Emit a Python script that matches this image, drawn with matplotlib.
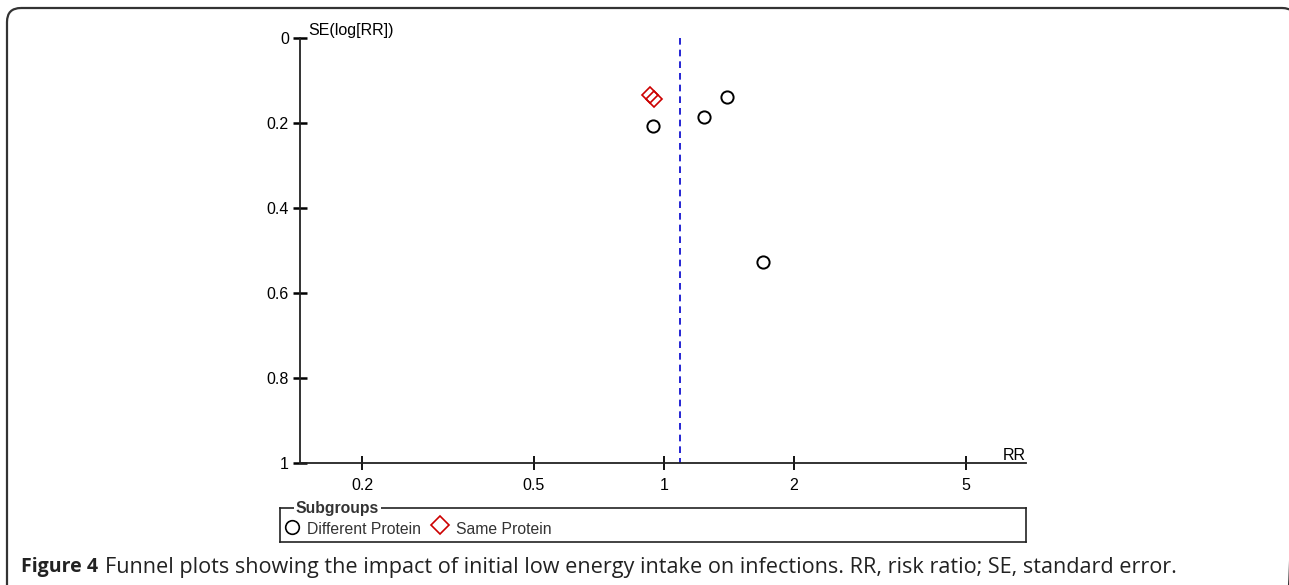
import numpy as np
from matplotlib import pyplot as plt
from matplotlib.patches import FancyBboxPatch
import matplotlib as mpl

# study estimates
rr_diff = [0.943, 1.238, 1.399, 1.695]
se_diff = [0.207, 0.186, 0.139, 0.527]
rr_same = [0.926, 0.946]
se_same = [0.134, 0.1435]
rr_pooled = 1.089

xticks = [0.2, 0.5, 1, 2, 5]
xticklabels = ["0.2", "0.5", "1", "2", "5"]
yticks = [0, 0.2, 0.4, 0.6, 0.8, 1]
yticklabels = ["0", "0.2", "0.4", "0.6", "0.8", "1"]

mpl.rc("font", family=["Liberation Sans", "DejaVu Sans"], size=11)

W, H = 1289, 585
fig = plt.figure(figsize=(W/100, H/100), dpi=100)

def fx(px):
    return px/W

def fy(py):
    return 1 - py/H

# background axes in pixel units, used for the panel frame
bg = fig.add_axes([0, 0, 1, 1], zorder=-1)
bg.set_xlim(0, W)
bg.set_ylim(H, 0)
bg.axis("off")
bg.add_patch(FancyBboxPatch((7, 8), 1296-7, 640-8, boxstyle="round,pad=0,rounding_size=14",
                            facecolor="none", edgecolor="#333333", lw=1.6))

ax = fig.add_axes([fx(300), fy(463), fx(1026)-fx(300), fy(38)-fy(463)])
ax.set_xscale("log")
ax.set_xlim(0.1437, 6.89)
ax.set_ylim(1, 0)

ax.plot([rr_pooled, rr_pooled], [0, 1], color="#0000cc", lw=1.2, ls=(0, (4, 3)), zorder=2)
ax.plot(rr_diff, se_diff, ls="none", marker="o", ms=8.8, mfc="none", mec="black", mew=1.4, zorder=3)
ax.plot(rr_same, se_same, ls="none", marker="D", ms=8.2, mfc="none", mec="#cc0000", mew=1.2, zorder=3)

for s in ["top", "right"]:
    ax.spines[s].set_visible(False)
for s in ["left", "bottom"]:
    ax.spines[s].set_linewidth(1.3)
    ax.spines[s].set_color("#222222")

ax.set_xticks(xticks)
ax.set_xticklabels(xticklabels)
ax.xaxis.set_minor_locator(mpl.ticker.NullLocator())
ax.set_yticks(yticks)
ax.set_yticklabels(yticklabels)
ax.tick_params(axis="x", direction="inout", length=10, width=1.3, pad=6, labelsize=11.5)
ax.tick_params(axis="y", direction="inout", length=10, width=1.8, pad=3, labelsize=11.5)

ax.text(0.011, 1.0, "SE(log[RR])", transform=ax.transAxes, ha="left", va="bottom", fontsize=11.5)
ax.text(1.0, 0.0, "RR", transform=ax.transAxes, ha="right", va="bottom", fontsize=11.5)
ax.patch.set_alpha(0)

# legend box
lg = fig.add_axes([fx(280), fy(542), fx(1026)-fx(280), fy(508)-fy(542)])
lg.set_xlim(0, 746)
lg.set_ylim(0, 34)
lg.set_xticks([])
lg.set_yticks([])
for s in lg.spines.values():
    s.set_linewidth(1.2)
    s.set_color("#222222")
lg.text(16, 34, "Subgroups", ha="left", va="center", fontsize=11.3, fontweight="bold",
        color="#333333", bbox=dict(facecolor="white", edgecolor="none", pad=1.5), clip_on=False)
lg.plot([12], [15], ls="none", marker="o", ms=9.8, mfc="none", mec="black", mew=1.2)
lg.text(27, 13, "Different Protein", ha="left", va="center", fontsize=11.3, color="#333333")
lg.plot([160], [17], ls="none", marker="D", ms=9.5, mfc="none", mec="#cc0000", mew=1.2)
lg.text(176, 13, "Same Protein", ha="left", va="center", fontsize=11.3, color="#333333")

cap = fig.text(fx(21), fy(567), "Figure 4", ha="left", va="center", fontsize=14,
               fontweight="bold", family=["Open Sans", "DejaVu Sans"], color="#222222")
plt.annotate("Funnel plots showing the impact of initial low energy intake on infections. RR, risk ratio; SE, standard error.",
             xy=(1, 0.5), xycoords=cap, xytext=(5, 0), textcoords="offset points",
             ha="left", va="center", fontsize=15.6,
             family=["Open Sans", "DejaVu Sans"], color="#222222")

plt.savefig("out.png", dpi=100)
